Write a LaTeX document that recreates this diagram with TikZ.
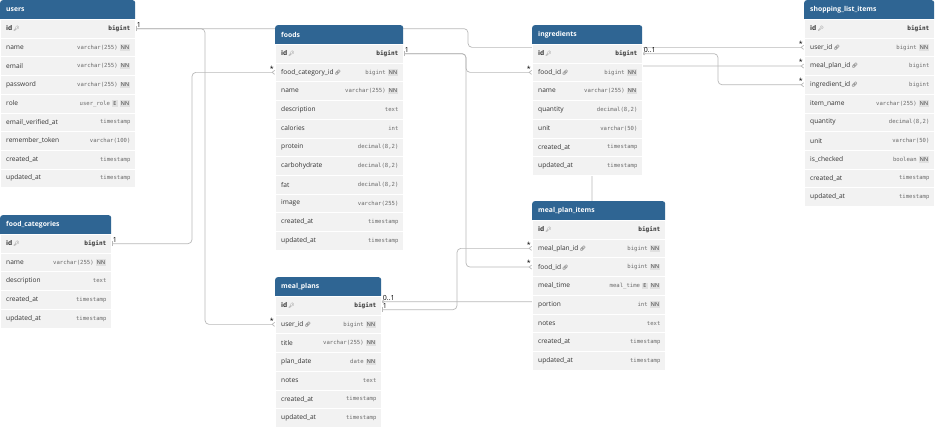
\documentclass[tikz,border=0pt]{standalone}
\usepackage{fontspec}
\setmainfont{Open Sans}
\setmonofont{DejaVu Sans Mono}
\newfontfamily\iconfont{Noto Emoji}
\usetikzlibrary{arrows.meta,calc}
\definecolor{HeadBlue}{HTML}{2F6593}
\definecolor{RowFill}{HTML}{F2F2F2}
\definecolor{NameInk}{HTML}{333333}
\definecolor{TypeGray}{HTML}{6A6A6A}
\definecolor{BadgeFill}{HTML}{E0E0E0}
\definecolor{LinkGray}{HTML}{B8B8B8}
\pgfdeclarelayer{links}
\pgfsetlayers{links,main}
\setlength{\fboxsep}{1.3pt}
\newcommand{\pkicon}{{\iconfont\fontsize{5}{5}\selectfont\textcolor{TypeGray}{\char"1F511}}}
\newcommand{\fkicon}{{\iconfont\fontsize{5}{5}\selectfont\textcolor{NameInk}{\char"1F517}}}
\newcommand{\nn}{\hspace{2pt}\colorbox{BadgeFill}{\rmfamily\fontsize{5.4}{6}\selectfont\textcolor{NameInk}{NN}}}
\newcommand{\en}{\hspace{2pt}\colorbox{BadgeFill}{\rmfamily\fontsize{5.4}{6}\selectfont\textcolor{NameInk}{E}}}
\newcommand{\pkname}{\textbf{id}\,\pkicon}
\newcommand{\pktype}{\textcolor{NameInk}{\bfseries\fontsize{6.1}{7}\selectfont bigint}}
\tikzset{
  tblhead/.style={rectangle, rounded corners=2.5pt, fill=HeadBlue,
    minimum height=23pt, inner sep=0pt},
  headtext/.style={text=white, inner sep=0pt, font=\fontsize{6.8}{8}\selectfont\bfseries},
  tblrow/.style={rectangle, fill=RowFill, draw=white, line width=0.6pt,
    minimum height=18.7pt, inner sep=0pt},
  fieldname/.style={text=NameInk, inner sep=0pt, font=\fontsize{6.6}{8}\selectfont},
  fieldtype/.style={text=TypeGray, inner sep=0pt, font=\fontsize{5.6}{7}\ttfamily},
  card/.style={inner sep=1pt, font=\fontsize{7}{7}\selectfont},
  link/.style={draw=LinkGray, line width=0.7pt, rounded corners=4pt},
  onemany/.style={link, {Bar[width=5pt,line width=0.6pt]}-{Straight Barb[reversed,length=2.5pt,width=4pt]}},
  optmany/.style={link, {Circle[open,length=3pt,width=3pt,fill=white]}-{Straight Barb[reversed,length=2.5pt,width=4pt]}}
}
% name, x, y, width, title, rows
\newcommand{\erdtable}[6]{%
  \node[tblhead, minimum width=#4pt, anchor=north west] (#1) at (#2,#3) {};
  \node[headtext, anchor=west] (#1-title) at (#2+6,#3+9.5) {#5};
  \foreach \fname/\ftype/\fflag [count=\i] in {#6} {
    \node[tblrow, minimum width=#4pt, anchor=north west] (#1-\i) at (#2,{#3+19+(\i-1)*18.7}) {};
    \node[fieldname, anchor=west] (#1-\i-n) at ([xshift=6pt]#1-\i.west) {\fname};
    \node[fieldtype, anchor=east] (#1-\i-t) at ([xshift=-5pt]#1-\i.east) {\ftype\fflag};
  }%
}
\begin{document}
\begin{tikzpicture}[x=1pt,y=-1pt]
  \useasboundingbox (0,0) rectangle (936,426);
  \erdtable{users}{0}{0}{135}{users}{
    \pkname/\pktype/,
    name/varchar(255)/\nn,
    email/varchar(255)/\nn,
    password/varchar(255)/\nn,
    role/user\_role/\en\nn,
    email\_verified\_at/timestamp/,
    remember\_token/varchar(100)/,
    created\_at/timestamp/,
    updated\_at/timestamp/}
  \erdtable{foodcat}{0}{215}{111}{food\_categories}{
    \pkname/\pktype/,
    name/varchar(255)/\nn,
    description/text/,
    created\_at/timestamp/,
    updated\_at/timestamp/}
  \erdtable{foods}{275}{25}{128}{foods}{
    \pkname/\pktype/,
    {food\_category\_id\,\fkicon}/bigint/\nn,
    name/varchar(255)/\nn,
    description/text/,
    calories/int/,
    protein/decimal(8{,}2)/,
    carbohydrate/decimal(8{,}2)/,
    fat/decimal(8{,}2)/,
    image/varchar(255)/,
    created\_at/timestamp/,
    updated\_at/timestamp/}
  \erdtable{mealplan}{275}{277}{106}{meal\_plans}{
    \pkname/\pktype/,
    {user\_id\,\fkicon}/bigint/\nn,
    title/varchar(255)/\nn,
    plan\_date/date/\nn,
    notes/text/,
    created\_at/timestamp/,
    updated\_at/timestamp/}
  \erdtable{ingred}{532}{25}{110}{ingredients}{
    \pkname/\pktype/,
    {food\_id\,\fkicon}/bigint/\nn,
    name/varchar(255)/\nn,
    quantity/decimal(8{,}2)/,
    unit/varchar(50)/,
    created\_at/timestamp/,
    updated\_at/timestamp/}
  \erdtable{mpitem}{532}{201}{133}{meal\_plan\_items}{
    \pkname/\pktype/,
    {meal\_plan\_id\,\fkicon}/bigint/\nn,
    {food\_id\,\fkicon}/bigint/\nn,
    meal\_time/meal\_time/\en\nn,
    portion/int/\nn,
    notes/text/,
    created\_at/timestamp/,
    updated\_at/timestamp/}
  \erdtable{shoplist}{804}{0}{130}{shopping\_list\_items}{
    \pkname/\pktype/,
    {user\_id\,\fkicon}/bigint/\nn,
    {meal\_plan\_id\,\fkicon}/bigint/,
    {ingredient\_id\,\fkicon}/bigint/,
    item\_name/varchar(255)/\nn,
    quantity/decimal(8{,}2)/,
    unit/varchar(50)/,
    is\_checked/boolean/\nn,
    created\_at/timestamp/,
    updated\_at/timestamp/}
  % relations, behind the tables
  \begin{pgfonlayer}{links}
    \draw[onemany] (users-1.east) node[card, above right]{1}
      -| ([xshift=-70pt]mealplan-2.west) -- (mealplan-2.west) node[card, above left]{*};
    \draw[onemany] (users-1.east) -| ([xshift=-336pt]shoplist-2.west)
      -- (shoplist-2.west) node[card, above left]{*};
    \draw[onemany] (foodcat-1.east) node[card, above right]{1}
      -| ([xshift=-83pt]foods-2.west) -- (foods-2.west) node[card, above left]{*};
    \draw[onemany] (foods-1.east) node[card, above right]{1}
      -| ([xshift=-66pt]ingred-2.west) -- (ingred-2.west) node[card, above left]{*};
    \draw[onemany] (foods-1.east) -| ([xshift=-66pt]mpitem-3.west)
      -- (mpitem-3.west) node[card, above left]{*};
    \draw[onemany] ([yshift=-4pt]mealplan-1.east) node[card, above right]{1}
      -| ([xshift=-75pt]mpitem-2.west) -- (mpitem-2.west) node[card, above left]{*};
    \draw[optmany] ([yshift=4pt]mealplan-1.east) node[card, above right]{0..1}
      -| ([xshift=-212pt]shoplist-3.west) -- (shoplist-3.west) node[card, above left]{*};
    \draw[optmany] (ingred-1.east) node[card, above right]{0..1}
      -| ([xshift=-86pt]shoplist-4.west) -- (shoplist-4.west) node[card, above left]{*};
  \end{pgfonlayer}
\end{tikzpicture}
\end{document}
